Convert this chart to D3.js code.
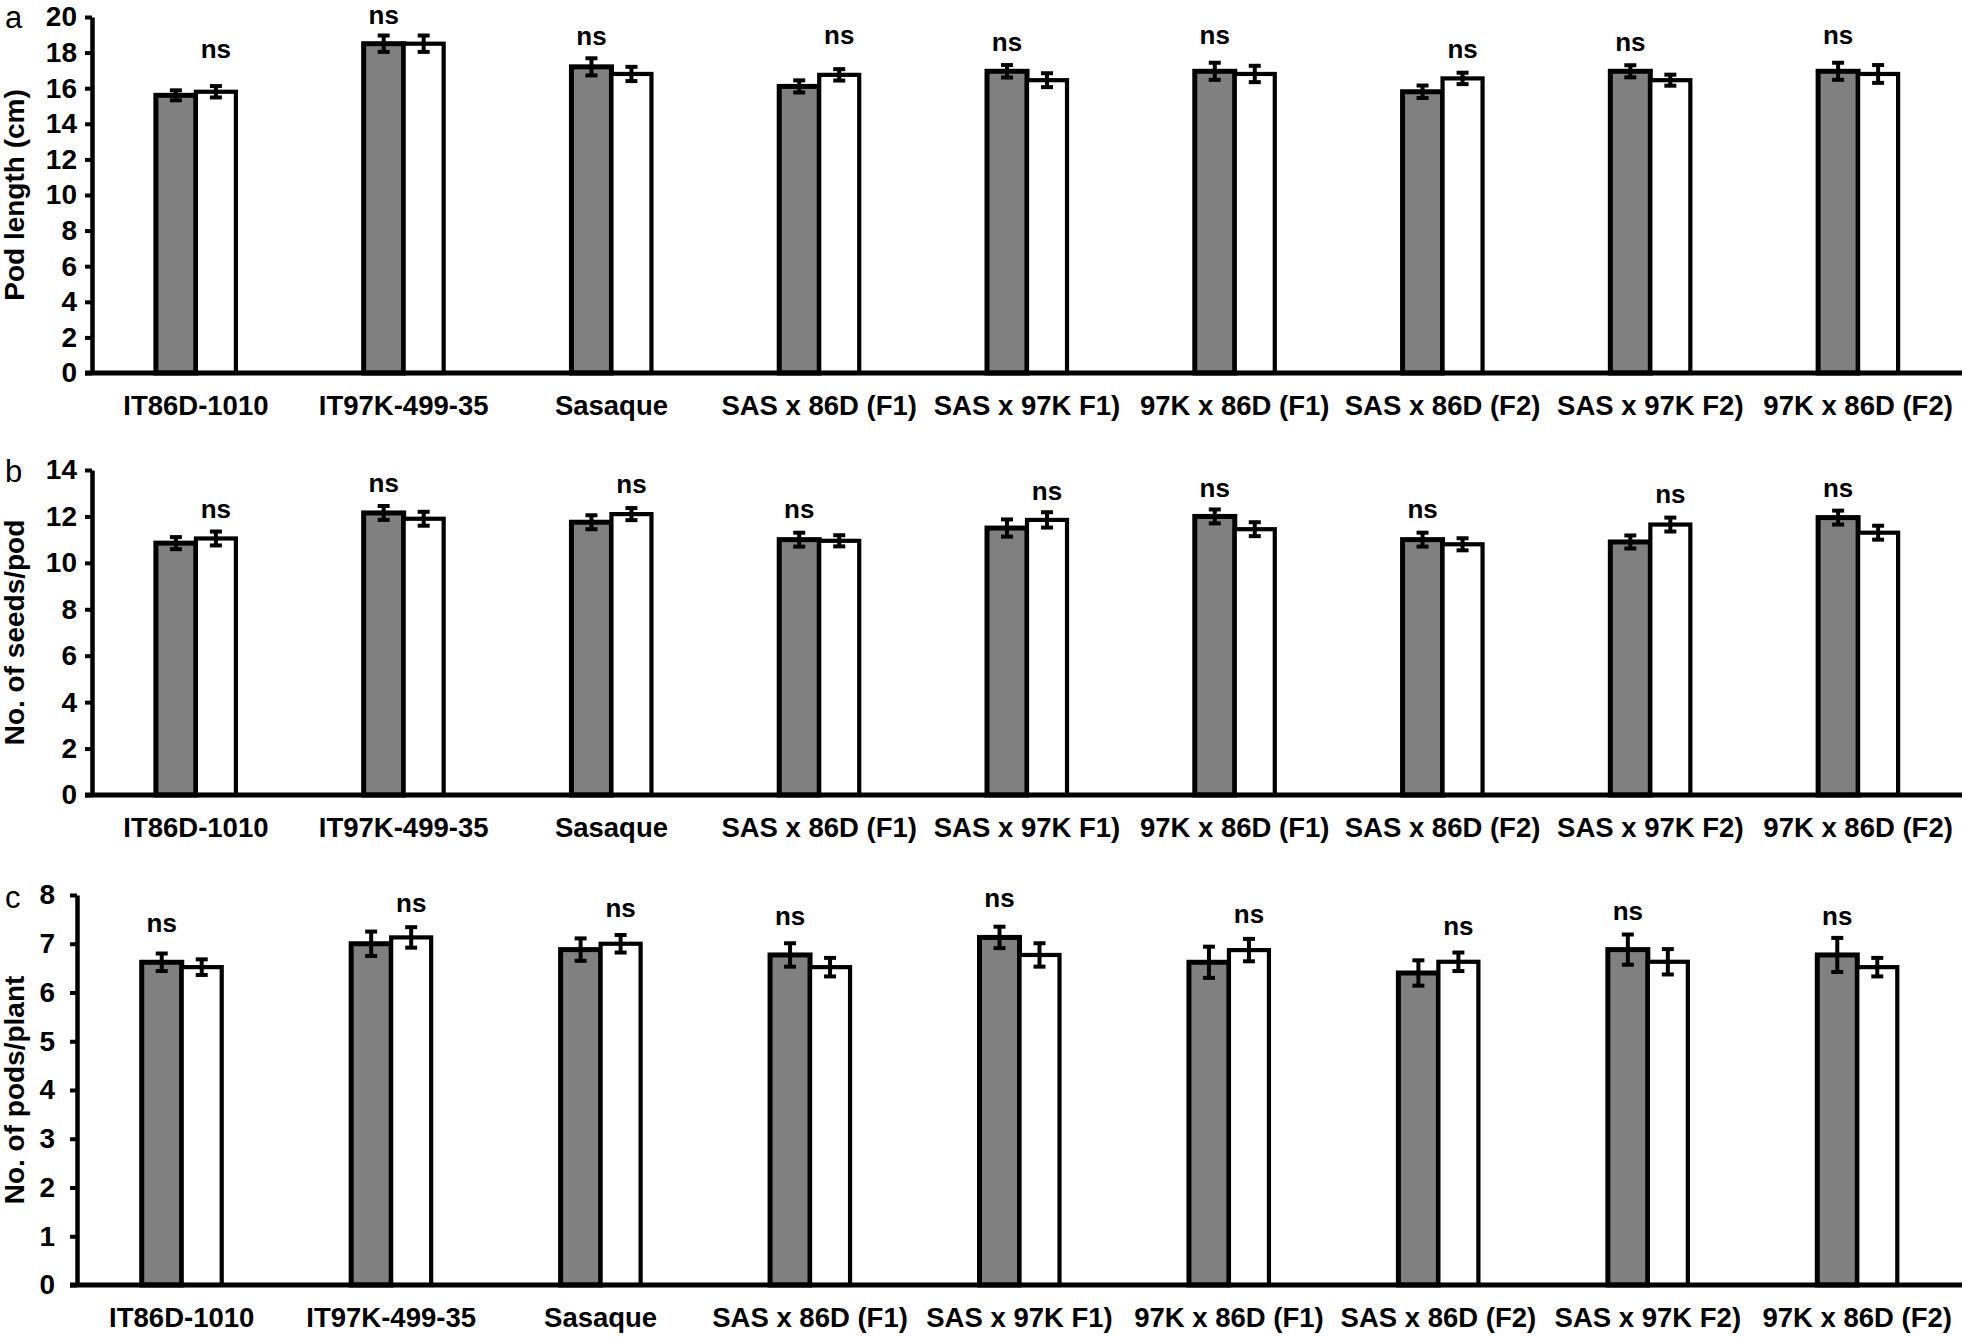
<!DOCTYPE html>
<html>
<head>
<meta charset="utf-8">
<script src="https://cdn.jsdelivr.net/npm/d3@7"></script>
<style>
  body { margin: 0; background: #fff; }
  text { font-family: "Liberation Sans", Arial, sans-serif; fill: #000; }
</style>
</head>
<body>
<svg id="chart" width="1966" height="1339"></svg>
<script>
const categories = ["IT86D-1010", "IT97K-499-35", "Sasaque", "SAS x 86D (F1)", "SAS x 97K F1)",
  "97K x 86D (F1)", "SAS x 86D (F2)", "SAS x 97K F2)", "97K x 86D (F2)"];

// a - pod length
const podLengthGray = [15.6, 18.5, 17.2, 16.1, 16.95, 16.95, 15.8, 16.95, 16.95];
const podLengthWhite = [15.8, 18.5, 16.8, 16.75, 16.45, 16.8, 16.55, 16.45, 16.8];
const podLengthGrayErr = [0.28, 0.46, 0.48, 0.34, 0.35, 0.48, 0.35, 0.34, 0.48];
const podLengthWhiteErr = [0.32, 0.46, 0.4, 0.32, 0.39, 0.46, 0.32, 0.31, 0.5];
const podLengthNs = [17.7, 19.6, 18.4, 18.5, 18.1, 18.5, 17.7, 18.1, 18.5];
const podLengthTicks = [0, 2, 4, 6, 8, 10, 12, 14, 16, 18, 20];

// b - seeds per pod
const seedsGray = [10.85, 12.15, 11.75, 11.0, 11.5, 12.0, 11.0, 10.9, 11.95];
const seedsWhite = [11.05, 11.9, 12.1, 10.95, 11.85, 11.45, 10.8, 11.65, 11.3];
const seedsGrayErr = [0.26, 0.3, 0.3, 0.3, 0.37, 0.3, 0.3, 0.28, 0.3];
const seedsWhiteErr = [0.3, 0.3, 0.26, 0.24, 0.33, 0.3, 0.26, 0.3, 0.3];
const seedsNs = [11.92, 13.07, 13.0, 11.92, 12.71, 12.85, 11.92, 12.57, 12.85];
const seedsTicks = [0, 2, 4, 6, 8, 10, 12, 14];

// c - pods per plant
const podsGray = [6.62, 7.0, 6.88, 6.77, 7.13, 6.62, 6.4, 6.88, 6.77];
const podsWhite = [6.52, 7.13, 7.0, 6.52, 6.77, 6.87, 6.63, 6.63, 6.52];
const podsGrayErr = [0.18, 0.25, 0.23, 0.24, 0.22, 0.32, 0.26, 0.31, 0.35];
const podsWhiteErr = [0.16, 0.21, 0.18, 0.19, 0.24, 0.23, 0.19, 0.26, 0.19];
const podsNs = [7.25, 7.66, 7.55, 7.38, 7.76, 7.42, 7.18, 7.49, 7.38];
const podsTicks = [0, 1, 2, 3, 4, 5, 6, 7, 8];

const svg = d3.select("#chart");
const barW = 40;

const panels = [
  { letter: "a", title: "Pod length (cm)", gray: podLengthGray, white: podLengthWhite,
    grayErr: podLengthGrayErr, whiteErr: podLengthWhiteErr, ns: podLengthNs, ticks: podLengthTicks,
    left: 92, right: 1962, top: 17, bottom: 373, letterY: 28, pad: 8 },
  { letter: "b", title: "No. of seeds/pod", gray: seedsGray, white: seedsWhite,
    grayErr: seedsGrayErr, whiteErr: seedsWhiteErr, ns: seedsNs, ticks: seedsTicks,
    left: 92, right: 1962, top: 470, bottom: 795, letterY: 482, pad: 8 },
  { letter: "c", title: "No. of pods/plant", gray: podsGray, white: podsWhite,
    grayErr: podsGrayErr, whiteErr: podsWhiteErr, ns: podsNs, ticks: podsTicks,
    left: 77, right: 1962, top: 895, bottom: 1285, letterY: 908, pad: 15 }
];

function drawPanel(p) {
  const g = svg.append("g");
  const x = d3.scaleBand().domain(categories).range([p.left, p.right]).padding(0);
  const sub = d3.scaleBand().domain(["gray", "white"]).range([-barW, barW]);
  const y = d3.scaleLinear().domain([0, d3.max(p.ticks)]).range([p.bottom, p.top]);

  const rows = categories.map((c, i) => ({
    cat: c,
    bars: [
      { s: "gray", v: p.gray[i], e: p.grayErr[i] },
      { s: "white", v: p.white[i], e: p.whiteErr[i] }
    ],
    ns: p.ns[i]
  }));
  const cx = d => x(d.cat) + x.bandwidth() / 2;

  const grp = g.selectAll(".grp").data(rows).enter().append("g")
    .attr("transform", d => "translate(" + cx(d) + ",0)");

  grp.selectAll("rect").data(d => d.bars).enter().append("rect")
    .attr("x", b => sub(b.s))
    .attr("y", b => y(b.v))
    .attr("width", sub.bandwidth())
    .attr("height", b => y(0) - y(b.v))
    .attr("fill", b => b.s === "gray" ? "#808080" : "#fff")
    .attr("stroke", "#000")
    .attr("stroke-width", b => b.s === "gray" ? 5 : 4.2);

  // error bars
  const eb = grp.selectAll(".err").data(d => d.bars).enter().append("g")
    .attr("transform", b => "translate(" + (sub(b.s) + sub.bandwidth() / 2) + ",0)");
  eb.append("line")
    .attr("y1", b => y(b.v - b.e)).attr("y2", b => y(b.v + b.e))
    .attr("stroke", "#000").attr("stroke-width", 4);
  eb.selectAll(".cap").data(b => [b.v - b.e, b.v + b.e]).enter().append("line")
    .attr("x1", -6).attr("x2", 6)
    .attr("y1", v => y(v)).attr("y2", v => y(v))
    .attr("stroke", "#000").attr("stroke-width", 4);

  // ns above the higher bar
  grp.append("text")
    .attr("x", d => {
      const s = d.bars[0].v >= d.bars[1].v ? "gray" : "white";
      return sub(s) + sub.bandwidth() / 2;
    })
    .attr("y", d => y(d.ns))
    .attr("text-anchor", "middle")
    .style("font-size", "26px").style("font-weight", "bold")
    .text("ns");

  // y axis
  const ya = g.append("g")
    .attr("transform", "translate(" + p.left + ",0)")
    .call(d3.axisLeft(y).tickValues(p.ticks).tickSize(7).tickSizeOuter(0).tickPadding(p.pad));
  ya.select(".domain").attr("stroke", "#000").attr("stroke-width", 4.5);
  ya.selectAll(".tick line").attr("stroke", "#000").attr("stroke-width", 4);
  ya.selectAll(".tick text")
    .style("font-family", "'Liberation Sans', Arial, sans-serif")
    .style("font-size", "28px").style("font-weight", "bold").attr("fill", "#000");

  // x axis
  const xa = g.append("g")
    .attr("transform", "translate(0," + p.bottom + ")")
    .call(d3.axisBottom(x).tickSize(0).tickSizeOuter(0).tickPadding(22));
  xa.select(".domain").attr("stroke", "#000").attr("stroke-width", 5)
    .attr("d", "M" + (p.left - 7) + ",0H" + p.right);
  xa.selectAll(".tick text")
    .style("font-family", "'Liberation Sans', Arial, sans-serif")
    .style("font-size", "27.5px").style("font-weight", "bold").attr("fill", "#000");

  // axis title
  g.append("text")
    .attr("transform", "translate(24," + (p.top + p.bottom) / 2 + ") rotate(-90)")
    .attr("text-anchor", "middle")
    .style("font-size", "28px").style("font-weight", "bold")
    .text(p.title);

  // panel letter
  g.append("text")
    .attr("x", 5).attr("y", p.letterY)
    .style("font-size", "31px")
    .text(p.letter);
}

panels.forEach(drawPanel);
</script>
</body>
</html>
